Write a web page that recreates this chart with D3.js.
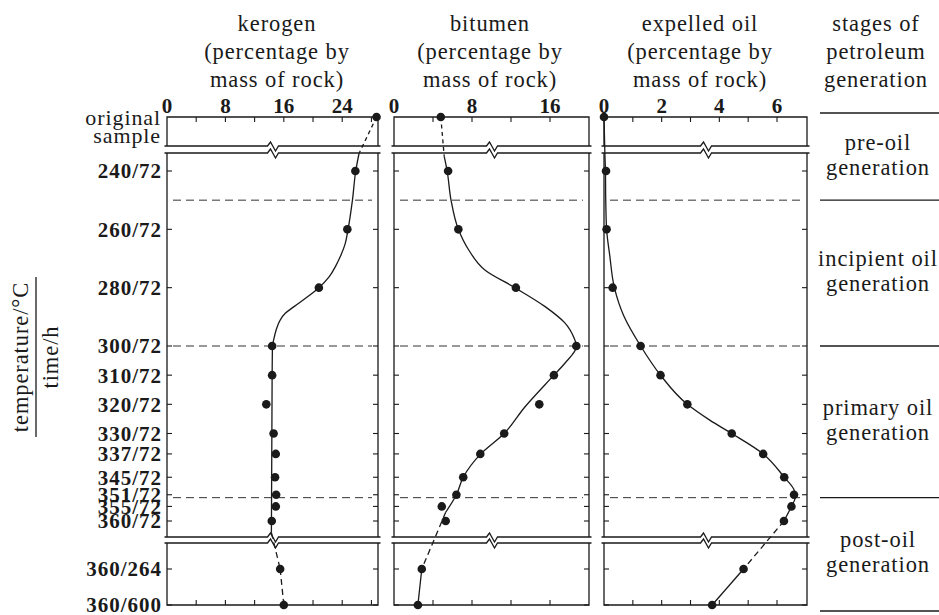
<!DOCTYPE html>
<html>
<head>
<meta charset="utf-8">
<script src="https://cdn.jsdelivr.net/npm/d3@7/dist/d3.min.js"></script>
<style>
  body { margin: 0; background: #fff; }
  svg { display: block; }
  text { font-family: "Liberation Serif", "Times New Roman", serif; fill: #1a1a1a; }
</style>
</head>
<body>
<svg id="chart" width="939" height="615"></svg>
<script>
// ---- samples: heating temperature (°C) / heating time (h) ----
const samples = ["original sample", "240/72", "260/72", "280/72", "300/72", "310/72", "320/72",
  "330/72", "337/72", "345/72", "351/72", "355/72", "360/72", "360/264", "360/600"];
const temperature = [null, 240, 260, 280, 300, 310, 320, 330, 337, 345, 351, 355, 360, 360, 360];
const hours = [null, 72, 72, 72, 72, 72, 72, 72, 72, 72, 72, 72, 72, 264, 600];

// ---- measured values (percentage by mass of rock) ----
const kerogen = [28.7, 25.8, 24.7, 20.8, 14.4, 14.4, 13.6, 14.6, 14.9, 14.8, 14.95, 14.9, 14.35, 15.5, 16.0];
const bitumen = [4.8, 5.55, 6.6, 12.5, 18.7, 16.4, 14.9, 11.3, 8.85, 7.1, 6.4, 4.9, 5.3, 2.85, 2.45];
const expelledOil = [0, 0.07, 0.09, 0.3, 1.27, 1.96, 2.89, 4.43, 5.52, 6.25, 6.59, 6.5, 6.24, 4.84, 3.75];

// ---- smoothed trend curves for the 72 h series: [temperature, value] ----
const kerogenTrend = [[234, 26.3], [240, 25.85], [250, 25.4], [260, 24.8], [265, 24.4], [269, 23.8],
  [272.6, 23.1], [276.3, 22.2], [280, 20.8], [283.2, 19.2], [286.5, 17.4], [288.8, 16.2],
  [291.1, 15.5], [294.5, 14.95], [298, 14.6], [300, 14.45], [310, 14.4], [364, 14.3]];
const bitumenTrend = [[235, 5.15], [240, 5.45], [250, 5.85], [260, 6.6], [267, 7.65], [274, 9.35],
  [280, 12.4], [286.5, 15.5], [292, 17.5], [297.5, 18.5], [300, 18.72], [306, 17.5], [310, 16.4],
  [321, 13.4], [330, 11.3], [337, 8.9], [345, 7.1], [351, 6.4], [357, 5.3]];
const expelledOilTrend = [[234, 0.03], [240, 0.05], [250, 0.06], [260, 0.09], [269, 0.2], [280, 0.36],
  [290, 0.7], [300, 1.27], [310, 1.96], [320, 2.89], [325.5, 3.68], [330, 4.43], [337, 5.52],
  [345, 6.25], [349.6, 6.6], [352, 6.63], [355, 6.5], [360, 6.24]];

// ---- axis ticks ----
const kerogenTickLabels = [0, 8, 16, 24];
const bitumenTickLabels = [0, 8, 16];
const expelledOilTickLabels = [0, 2, 4, 6];

// ---- stages of petroleum generation (boundary temperatures at 72 h) ----
const stageBounds = [250, 300, 352];
const stageNames = [["pre-oil", "generation"], ["incipient oil", "generation"],
  ["primary oil", "generation"], ["post-oil", "generation"]];

// ================= layout =================
const svg = d3.select("#chart");
const ink = "#1a1a1a";
const L = {
  topBox: [117, 146],      // original-sample strip
  midBox: [153, 537],      // 72 h heating series
  lowBox: [543, 605],      // 360 °C long heating
  tick: 5
};
const yTemp = d3.scaleLinear().domain([240, 360]).range([171, 521]);
const yHours = d3.scaleLinear().domain([264, 600]).range([569, 605]);
const yOf = i => temperature[i] === null ? L.topBox[0]
  : (hours[i] === 72 ? yTemp(temperature[i]) : yHours(hours[i]));

const panels = [
  { title: ["kerogen", "(percentage by", "mass of rock)"], values: kerogen, trend: kerogenTrend,
    x: d3.scaleLinear().domain([0, 28.9]).range([167, 378]), step: 4, labels: kerogenTickLabels,
    titleX: 277, topLink: "4,3.5", lowLinks: ["6,4", "6,4"] },
  { title: ["bitumen", "(percentage by", "mass of rock)"], values: bitumen, trend: bitumenTrend,
    x: d3.scaleLinear().domain([0, 20]).range([394, 589]), step: 4, labels: bitumenTickLabels,
    titleX: 490, topLink: "4,3.5", lowLinks: ["6,4", null] },
  { title: ["expelled oil", "(percentage by", "mass of rock)"], values: expelledOil, trend: expelledOilTrend,
    x: d3.scaleLinear().domain([0, 7.04]).range([604, 807]), step: 1, labels: expelledOilTickLabels,
    titleX: 700, topLink: null, lowLinks: ["6,4", null] }
];

function breakPath(x0, x1, cx, y) {
  const p = d3.path();
  p.moveTo(x0, y); p.lineTo(cx - 5, y); p.lineTo(cx - 2, y - 4);
  p.lineTo(cx + 3, y + 5); p.lineTo(cx + 6, y); p.lineTo(x1, y);
  return p.toString();
}

panels.forEach(P => {
  const g = svg.append("g");
  const [x0, x1] = P.x.range();
  const cx = (x0 + x1) / 2;
  const frame = g.append("g").attr("fill", "none").attr("stroke", ink).attr("stroke-width", 1.3);

  // title
  P.title.forEach((t, k) => g.append("text").attr("x", P.titleX).attr("y", 31 + k * 28)
    .attr("text-anchor", "middle").attr("font-size", 22.5).attr("letter-spacing", 0.9).text(t));

  // top strip
  frame.append("path").attr("d", `M${x0},${L.topBox[1]}V${L.topBox[0]}H${x1}V${L.topBox[1]}`);
  frame.append("path").attr("d", breakPath(x0 - 2.5, x1 + 2.5, cx, L.topBox[1]));
  // middle box
  frame.append("path").attr("d", breakPath(x0 - 2.5, x1 + 2.5, cx, L.midBox[0]));
  frame.append("path").attr("d", `M${x0},${L.midBox[0]}V${L.midBox[1]}M${x1},${L.midBox[0]}V${L.midBox[1]}`);
  frame.append("path").attr("d", breakPath(x0 - 2.5, x1 + 2.5, cx, L.midBox[1]));
  // lower box
  frame.append("path").attr("d", breakPath(x0 - 2.5, x1 + 2.5, cx, L.lowBox[0]));
  frame.append("path").attr("d", `M${x0},${L.lowBox[0]}V${L.lowBox[1]}H${x1}V${L.lowBox[0]}`);

  // value ticks (top and bottom edges)
  const ticks = d3.range(P.step, P.x.domain()[1] - 0.2, P.step);
  ticks.forEach(v => {
    frame.append("line").attr("x1", P.x(v)).attr("x2", P.x(v))
      .attr("y1", L.topBox[0]).attr("y2", L.topBox[0] + L.tick).attr("stroke-width", 1.1);
    frame.append("line").attr("x1", P.x(v)).attr("x2", P.x(v))
      .attr("y1", L.lowBox[1]).attr("y2", L.lowBox[1] - L.tick).attr("stroke-width", 1.1);
  });
  P.labels.forEach(v => g.append("text").attr("x", P.x(v)).attr("y", 113)
    .attr("text-anchor", "middle").attr("font-size", 21).attr("font-weight", "bold").text(v));

  // sample ticks on both sides
  samples.forEach((s, i) => {
    if (i === 0) return;
    const y = yOf(i);
    frame.append("line").attr("x1", x0).attr("x2", x0 + L.tick).attr("y1", y).attr("y2", y).attr("stroke-width", 1.1);
    frame.append("line").attr("x1", x1).attr("x2", x1 - L.tick).attr("y1", y).attr("y2", y).attr("stroke-width", 1.1);
  });

  // stage boundaries
  stageBounds.forEach(t => g.append("line").attr("x1", x0 + 6).attr("x2", x1 - 6)
    .attr("y1", yTemp(t)).attr("y2", yTemp(t))
    .attr("stroke", "#333").attr("stroke-width", 1).attr("stroke-dasharray", "8,5"));

  // trend curve
  const line = d3.line().x(d => P.x(d[1])).y(d => yTemp(d[0])).curve(d3.curveMonotoneY);
  const curves = g.append("g").attr("fill", "none").attr("stroke", ink).attr("stroke-width", 1.3);
  curves.append("path").attr("d", line(P.trend));

  // link from the original sample to the curve
  const first = P.trend[0], last = P.trend[P.trend.length - 1];
  const seg = (a, b, dash) => {
    const p = curves.append("path").attr("d", `M${a[0]},${a[1]}L${b[0]},${b[1]}`);
    if (dash) p.attr("stroke-dasharray", dash);
  };
  seg([P.x(P.values[0]), yOf(0)], [P.x(first[1]), yTemp(first[0])], P.topLink);
  // links into the long-heating samples
  const n = samples.length;
  seg([P.x(last[1]), yTemp(last[0])], [P.x(P.values[n - 2]), yOf(n - 2)], P.lowLinks[0]);
  seg([P.x(P.values[n - 2]), yOf(n - 2)], [P.x(P.values[n - 1]), yOf(n - 1)], P.lowLinks[1]);

  // measured points
  g.append("g").selectAll("circle").data(P.values).join("circle")
    .attr("cx", d => P.x(d)).attr("cy", (d, i) => yOf(i)).attr("r", 4.3).attr("fill", ink);
});

// sample labels on the left
const lab = svg.append("g");
samples.forEach((s, i) => {
  if (i === 0) {
    lab.append("text").attr("x", 161).attr("y", 125).attr("text-anchor", "end")
      .attr("font-size", 22).attr("letter-spacing", 0.9).text("original");
    lab.append("text").attr("x", 161).attr("y", 143).attr("text-anchor", "end")
      .attr("font-size", 22).attr("letter-spacing", 0.9).text("sample");
    return;
  }
  lab.append("text").attr("x", 162).attr("y", yOf(i)).attr("dy", "0.35em").attr("text-anchor", "end")
    .attr("font-size", 21).attr("font-weight", "bold").attr("letter-spacing", 1).text(s);
});

// vertical axis title as a fraction
const yt = svg.append("g");
yt.append("text").attr("transform", "translate(28,357) rotate(-90)").attr("text-anchor", "middle")
  .attr("font-size", 22.5).attr("letter-spacing", 0.9).text("temperature/°C");
yt.append("line").attr("x1", 36).attr("x2", 36).attr("y1", 277).attr("y2", 437)
  .attr("stroke", ink).attr("stroke-width", 1.3);
yt.append("text").attr("transform", "translate(58,357) rotate(-90)").attr("text-anchor", "middle")
  .attr("font-size", 22.5).attr("letter-spacing", 0.9).text("time/h");

// stages column
const st = svg.append("g");
["stages of", "petroleum", "generation"].forEach((t, k) => st.append("text")
  .attr("x", 876).attr("y", 31 + k * 28).attr("text-anchor", "middle")
  .attr("font-size", 22.5).attr("letter-spacing", 0.9).text(t));
const edges = [L.topBox[0] - 4, ...stageBounds.map(yTemp), L.lowBox[1] + 6];
edges.forEach(y => st.append("line").attr("x1", 820).attr("x2", 939).attr("y1", y).attr("y2", y)
  .attr("stroke", ink).attr("stroke-width", 1.3));
stageNames.forEach((names, k) => {
  const c = (edges[k] + edges[k + 1]) / 2;
  names.forEach((t, j) => st.append("text").attr("x", 878).attr("y", c - 7 + j * 25)
    .attr("text-anchor", "middle").attr("font-size", 22.5).attr("letter-spacing", 0.9).text(t));
});
</script>
</body>
</html>
